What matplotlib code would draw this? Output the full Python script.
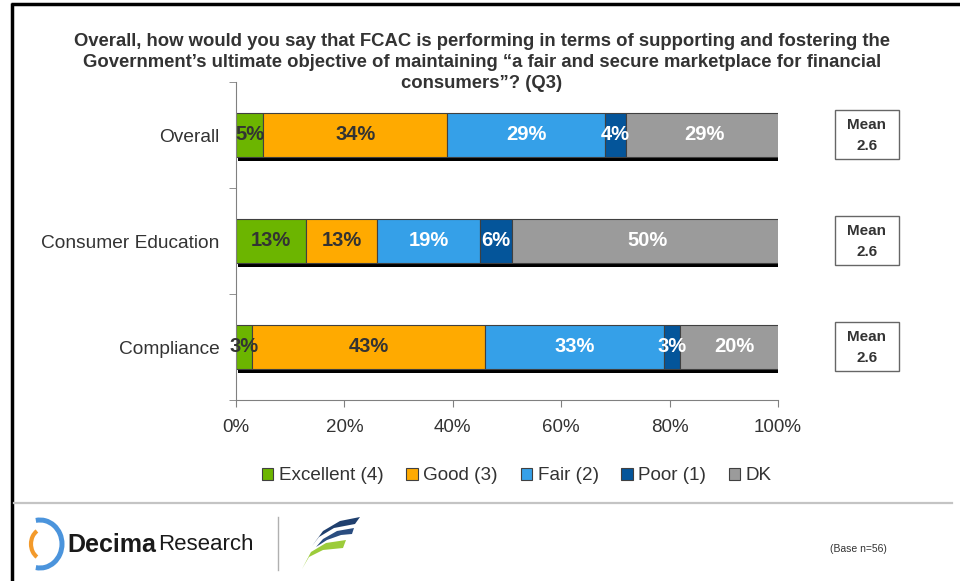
import numpy as np
import matplotlib
matplotlib.use("Agg")
from matplotlib import pyplot as plt
from matplotlib.patches import Patch, Rectangle, Arc, Polygon
from matplotlib.transforms import blended_transform_factory
from matplotlib import font_manager

plt.rcParams['font.family'] = ['Liberation Sans', 'DejaVu Sans']

categories = ['Overall', 'Consumer Education', 'Compliance']
series = ['Excellent (4)', 'Good (3)', 'Fair (2)', 'Poor (1)', 'DK']
excellent = [5, 13, 3]
good = [34, 13, 43]
fair = [29, 19, 33]
poor = [4, 6, 3]
dk = [29, 50, 20]
means = [2.6, 2.6, 2.6]
base_n = 56

colors = ['#6CB500', '#FFAA00', '#35A0E8', '#04559A', '#9B9B9B']
label_colors = ['#333333', '#333333', 'white', 'white', 'white']
txt = '#333333'

fig = plt.figure(figsize=(9.6, 5.81), dpi=100)
ax = fig.add_axes([236 / 960, 1 - 400 / 581, 542 / 960, 318 / 581])

y = np.arange(len(categories))
bar_h = 0.415
values = [excellent, good, fair, poor, dk]
totals = np.sum(values, axis=0)

# drop shadow under each bar
ax.barh(y + 0.038, totals, left=0.35, height=bar_h, color='black', zorder=1)

left = np.zeros(len(categories))
for vals, col, lcol in zip(values, colors, label_colors):
    bars = ax.barh(y, vals, left=left, height=bar_h, color=col,
                   edgecolor='#404040', linewidth=0.8, zorder=2)
    for b, v in zip(bars, vals):
        ax.text(b.get_x() + b.get_width() / 2, b.get_y() + b.get_height() / 2,
                f'{v}%', ha='center', va='center', fontsize=14.5,
                fontweight='bold', color=lcol, zorder=3)
    left += np.array(vals)

ax.set_xlim(0, 100)
ax.set_ylim(2.5, -0.5)
ax.set_xticks(range(0, 101, 20))
ax.set_xticklabels([f'{t}%' for t in range(0, 101, 20)])
ax.set_yticks(y)
ax.set_yticklabels(categories)
ax.set_yticks([-0.5, 0.5, 1.5, 2.5], minor=True)
ax.tick_params(axis='y', which='major', length=0, pad=12, labelsize=13.8, labelcolor=txt)
ax.tick_params(axis='y', which='minor', length=5, color='#808080')
ax.tick_params(axis='x', length=5, color='#808080', pad=9, labelsize=13.5, labelcolor=txt)
for s in ['top', 'right']:
    ax.spines[s].set_visible(False)
for s in ['left', 'bottom']:
    ax.spines[s].set_color('#808080')

# mean score boxes to the right of each bar
tr = blended_transform_factory(fig.transFigure, ax.transData)
for yi, m in zip(y, means):
    ax.add_patch(Rectangle((835 / 960, yi - 0.235), 64 / 960, 0.462, transform=tr,
                           facecolor='white', edgecolor='#666666', lw=1, clip_on=False))
    ax.text(867 / 960, yi + 0.005, f'Mean\n{m:.1f}', transform=tr, ha='center', va='center',
            fontsize=11, fontweight='bold', color=txt, linespacing=1.7)

fig.text(482 / 960, 1 - 62.5 / 581,
         'Overall, how would you say that FCAC is performing in terms of supporting and fostering the\n'
         'Government\u2019s ultimate objective of maintaining \u201ca fair and secure marketplace for financial\n'
         'consumers\u201d? (Q3)',
         ha='center', va='center', fontsize=13.3, fontweight='bold', color=txt, linespacing=1.27)

handles = [Patch(facecolor=c, edgecolor='#404040', lw=0.8) for c in colors]
fig.legend(handles, series, loc='center', bbox_to_anchor=(517 / 960, 1 - 476 / 581),
           ncol=5, frameon=False, fontsize=13.6, handlelength=0.6, handleheight=0.6,
           handletextpad=0.3, columnspacing=1.2, labelcolor=txt)

# page decoration in pixel coordinates
deco = fig.add_axes([0, 0, 1, 1], zorder=-1)
deco.set_xlim(0, 960)
deco.set_ylim(581, 0)
deco.axis('off')
deco.plot([12, 12], [3, 581], color='black', lw=2.5, solid_capstyle='butt')
deco.plot([11, 960], [4, 4], color='black', lw=2.5, solid_capstyle='butt')
deco.plot([14, 952], [503, 503], color='#c4c4c4', lw=1.6)
deco.plot([278, 278], [517, 570], color='#b0b0b0', lw=1)

# Decima logo
deco.add_patch(Arc((40, 544), 44, 48, theta1=-100, theta2=100, color='#4b94dc', lw=3.6))
deco.add_patch(Arc((43, 544), 24, 30, theta1=115, theta2=245, color='#f39a2b', lw=3))
names = {f.name for f in font_manager.fontManager.ttflist}
logo_font = 'Liberation Sans Narrow' if 'Liberation Sans Narrow' in names else 'Liberation Sans'
deco.text(67, 545, 'Decima', fontsize=18, fontweight='bold', family=logo_font,
          color='#1a1a1a', va='center', ha='left')
deco.text(158, 545, 'Research', fontsize=16, family=logo_font,
          color='#1a1a1a', va='center', ha='left')

# swoosh logo
deco.add_patch(Polygon([(360, 517), (340, 521), (323, 531), (312, 546), (319, 537),
                        (334, 528), (355, 524)], closed=True, color='#1f3f6e', lw=0))
deco.add_patch(Polygon([(354, 528), (337, 531), (323, 539), (316, 547), (327, 540),
                        (341, 535), (352, 534)], closed=True, color='#2a4d80', lw=0))
deco.add_patch(Polygon([(346, 540), (326, 543), (311, 552), (302, 569), (309, 557),
                        (323, 550), (343, 548)], closed=True, color='#9ccc3a', lw=0))

deco.text(858, 549, f'(Base n={base_n})', fontsize=7.5, color=txt, ha='center', va='center')

fig.savefig('out.png', dpi=100)
